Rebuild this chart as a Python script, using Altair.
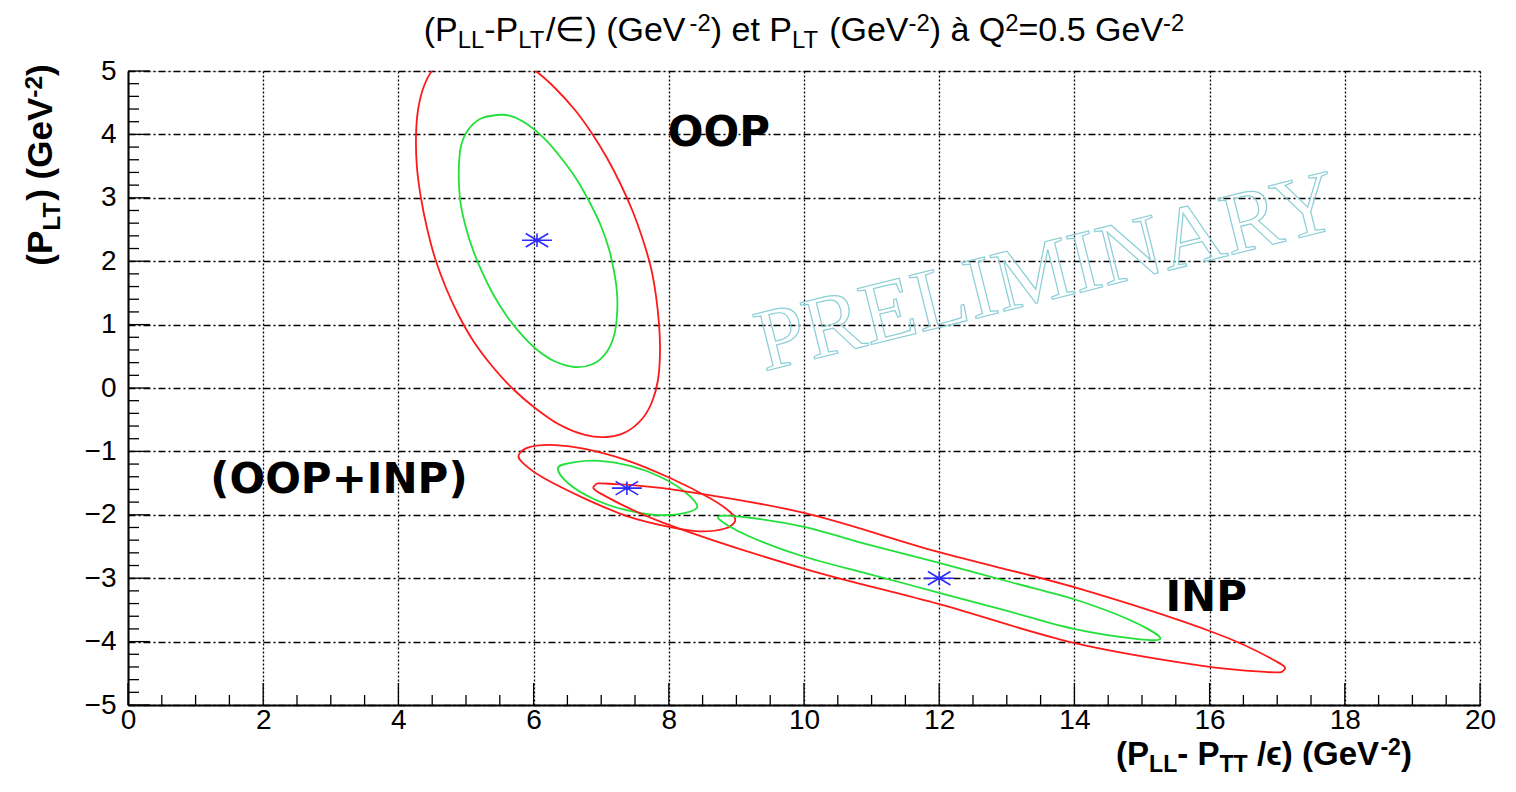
import altair as alt
import pandas as pd

# ---------------- data ----------------
# contours (x, y) of the confidence ellipses
oop_red_x = [5.044, 5.429, 5.769, 6.050, 6.316, 6.612, 6.849, 7.086, 7.293, 7.470, 7.618,
             7.737, 7.811, 7.855, 7.870, 7.840, 7.751, 7.604, 7.367, 7.086, 6.760, 6.391,
             6.021, 5.680, 5.385, 5.118, 4.896, 4.704, 4.541, 4.423, 4.334, 4.275, 4.260,
             4.290, 4.379, 4.527, 4.763]
oop_red_y = [5.300, 5.284, 5.174, 4.984, 4.732, 4.385, 4.038, 3.628, 3.202, 2.776, 2.334,
             1.893, 1.451, 1.009, 0.568, 0.126, -0.221, -0.489, -0.694, -0.773, -0.741,
             -0.584, -0.315, 0.000, 0.347, 0.726, 1.136, 1.577, 2.050, 2.524, 2.997, 3.470,
             3.943, 4.385, 4.763, 5.047, 5.237]
oop_green_x = [5.459, 5.207, 5.030, 4.926, 4.896, 4.896, 4.926, 5.000, 5.104, 5.237, 5.399,
               5.592, 5.799, 6.036, 6.302, 6.612, 6.879, 7.071, 7.189, 7.234, 7.234, 7.189,
               7.115, 6.997, 6.834, 6.642, 6.420, 6.169, 5.902, 5.666]
oop_green_y = [4.306, 4.243, 4.069, 3.817, 3.517, 3.202, 2.871, 2.524, 2.177, 1.830, 1.483,
               1.151, 0.868, 0.615, 0.426, 0.331, 0.379, 0.552, 0.820, 1.151, 1.498, 1.845,
               2.192, 2.555, 2.918, 3.281, 3.612, 3.927, 4.164, 4.290]
comb_red_x = [5.78, 5.95, 6.32, 6.76, 7.38, 8.02, 8.61, 8.91, 8.98, 8.82, 8.45, 8.00,
              7.38, 6.75, 6.15, 5.86]
comb_red_y = [-1.06, -0.93, -0.90, -0.96, -1.14, -1.42, -1.74, -1.96, -2.10, -2.22, -2.26,
              -2.19, -2.02, -1.74, -1.42, -1.20]
comb_green_x = [6.36, 6.61, 6.98, 7.43, 7.87, 8.24, 8.42, 8.15, 7.78, 7.34, 6.89, 6.52]
comb_green_y = [-1.26, -1.17, -1.15, -1.23, -1.40, -1.64, -1.88, -1.99, -2.00, -1.92,
                -1.75, -1.51]
inp_red_x = [6.91, 7.13, 8.12, 10.00, 12.00, 14.02, 16.07, 17.00, 17.09, 16.86, 15.87,
             13.99, 12.00, 9.97, 7.93, 7.00]
inp_red_y = [-1.53, -1.51, -1.61, -1.97, -2.59, -3.15, -3.86, -4.32, -4.46, -4.48, -4.38,
             -4.02, -3.41, -2.84, -2.13, -1.67]
inp_green_x = [8.73, 9.05, 10.00, 10.98, 12.00, 13.05, 14.02, 14.82, 15.27, 14.94, 13.99,
               13.02, 12.00, 10.95, 9.97, 9.17]
inp_green_y = [-2.05, -2.03, -2.19, -2.48, -2.76, -3.06, -3.34, -3.66, -3.94, -3.96, -3.80,
               -3.52, -3.23, -2.93, -2.65, -2.33]

# best-fit points
star_x = [6.05, 7.38, 12.0]
star_y = [2.33, -1.58, -3.0]

# region labels
label_text = ["OOP", "(OOP+INP)", "INP"]
label_x = [8.74, 3.12, 15.95]
label_y = [4.02, -1.45, -3.31]

watermark_text = ["PRELIMINARY"]
watermark_x = [13.6]
watermark_y = [1.8]

# axis ticks
x_major = [0, 2, 4, 6, 8, 10, 12, 14, 16, 18, 20]
x_minor = [v / 2 for v in range(0, 41) if v % 4 != 0]
y_major = [-5, -4, -3, -2, -1, 0, 1, 2, 3, 4, 5]
y_minor = [v / 5 for v in range(-25, 26) if v % 5 != 0]

# ---------------- chart ----------------
W, H = 1352, 634
RED, GREEN, BLUE = "#ff1a1a", "#22e03a", "#2b2bff"

frames = []
for name, col, xs, ys in [
    ("oop_red", RED, oop_red_x, oop_red_y),
    ("oop_green", GREEN, oop_green_x, oop_green_y),
    ("comb_red", RED, comb_red_x, comb_red_y),
    ("comb_green", GREEN, comb_green_x, comb_green_y),
    ("inp_red", RED, inp_red_x, inp_red_y),
    ("inp_green", GREEN, inp_green_x, inp_green_y),
]:
    frames.append(pd.DataFrame({"x": xs, "y": ys, "grp": name, "col": col,
                                "i": list(range(len(xs)))}))
ell = pd.concat(frames, ignore_index=True)

xscale = alt.Scale(domain=[0, 20], nice=False, zero=False)
yscale = alt.Scale(domain=[-5, 5], nice=False, zero=False)

xaxis = alt.Axis(values=x_major, format="d", grid=True, gridColor="black", gridDash=[2, 2],
                 gridWidth=1.3, ticks=False, domain=True, domainColor="black",
                 domainWidth=2, labelFont="Liberation Sans", labelFontSize=28,
                 labelColor="black", labelPadding=1, labelFlush=False,
                 labelOverlap=False, labelBound=False, title=None)
yaxis = alt.Axis(values=y_major, format="d", grid=True, gridColor="black",
                 gridDash=[7, 3, 2, 3], gridWidth=1.3, ticks=False, domain=True,
                 domainColor="black", domainWidth=2, labelFont="Liberation Sans",
                 labelFontSize=28, labelColor="black", labelPadding=12, labelFlush=False,
                 labelOverlap=False, labelBound=False, title=None)

ellipses = alt.Chart(ell).mark_line(
    interpolate="cardinal-closed", strokeWidth=1.8, clip=True
).encode(
    x=alt.X("x:Q", scale=xscale, axis=xaxis),
    y=alt.Y("y:Q", scale=yscale, axis=yaxis),
    color=alt.Color("col:N", scale=None),
    detail="grp:N",
    order="i:Q",
)

stars = alt.Chart(pd.DataFrame({"x": star_x, "y": star_y})).mark_point(
    shape="M-1,0L1,0M-0.75,-0.45L0.75,0.45M-0.75,0.45L0.75,-0.45M0,-0.45L0,0.45",
    size=900, filled=False, color=BLUE, strokeWidth=1.6, opacity=1,
).encode(x=alt.X("x:Q", title=None), y=alt.Y("y:Q", title=None))

labels = alt.Chart(pd.DataFrame({"t": label_text, "x": label_x, "y": label_y})).mark_text(
    font="DejaVu Sans", fontWeight="bold", fontSize=42, color="black",
    align="center", baseline="middle",
).encode(x=alt.X("x:Q", title=None), y=alt.Y("y:Q", title=None), text="t:N")

watermark = alt.Chart(pd.DataFrame({"t": watermark_text, "x": watermark_x,
                                    "y": watermark_y})).mark_text(
    font="Liberation Serif", fontSize=88, angle=346, fillOpacity=0,
    stroke="#8ccfd6", strokeWidth=1.2, align="center", baseline="middle",
).encode(x=alt.X("x:Q", title=None), y=alt.Y("y:Q", title=None), text="t:N")


# inward ticks (ROOT style)
def xticks(vals, length):
    return alt.Chart(pd.DataFrame({"v": vals})).mark_rule(color="black", strokeWidth=1.3).encode(
        x=alt.X("v:Q", title=None), y=alt.value(H), y2=alt.value(H - length))


def yticks(vals, length):
    return alt.Chart(pd.DataFrame({"v": vals})).mark_rule(color="black", strokeWidth=1.3).encode(
        y=alt.Y("v:Q", title=None), x=alt.value(0), x2=alt.value(length))


tick_layers = [xticks(x_major, 22), xticks(x_minor, 10), yticks(y_major, 22), yticks(y_minor, 11)]

# ---------------- texts with sub/superscripts ----------------
W_REG = {' ': 278, '(': 333, ')': 333, '-': 333, '/': 278, '.': 278, '=': 584, 'P': 667,
         'L': 556, 'T': 611, 'G': 778, 'e': 556, 'V': 667, 't': 278, 'à': 556, 'Q': 778,
         '∈': 1000, '2': 556, '0': 556, '5': 556}
W_BOLD = {' ': 278, '(': 333, ')': 333, '-': 333, '/': 278, 'P': 667, 'L': 611, 'T': 611,
          'G': 778, 'e': 556, 'V': 667, '2': 556, 'ϵ': 520}

dummy = pd.DataFrame({"a": [0]})


def rich_text(segs, size, bold, cx, cy, rotate=False):
    widths = W_BOLD if bold else W_REG
    items, total = [], 0.0
    for txt, kind in segs:
        fs = size if kind == "n" else size * 0.7
        lead = len(txt) - len(txt.lstrip(" "))
        lead_w = lead * widths[' '] / 1000.0 * fs
        w = sum(widths.get(c, 600) for c in txt) / 1000.0 * fs
        items.append((txt.strip(" "), kind, fs, total + lead_w))
        total += w
    layers = []
    for txt, kind, fs, off in items:
        shift = 0.0
        if kind == "sub":
            shift = 0.22 * size
        elif kind == "sup":
            shift = -0.30 * size
        if rotate:
            px, py, ang = cx + shift, cy + total / 2 - off, 270
        else:
            px, py, ang = cx - total / 2 + off, cy + shift, 0
        layers.append(alt.Chart(dummy).mark_text(
            text=txt, font="Liberation Sans", fontSize=fs,
            fontWeight="bold" if bold else "normal", color="black",
            align="left", baseline="alphabetic", angle=ang,
        ).encode(x=alt.value(px), y=alt.value(py)))
    return layers


title_segs = [("(P", "n"), ("LL", "sub"), ("-P", "n"), ("LT", "sub"), ("/∈) (GeV", "n"),
              ("-2", "sup"), (") et P", "n"), ("LT", "sub"), (" (GeV", "n"), ("-2", "sup"),
              (") à Q", "n"), ("2", "sup"), ("=0.5 GeV", "n"), ("-2", "sup")]
xtitle_segs = [("(P", "n"), ("LL", "sub"), ("- P", "n"), ("TT", "sub"), (" /ϵ) (GeV", "n"),
               ("-2", "sup"), (")", "n")]
ytitle_segs = [("(P", "n"), ("LT", "sub"), (") (GeV", "n"), ("-2", "sup"), (")", "n")]

text_layers = (rich_text(title_segs, 34, False, 676, -30)
               + rich_text(xtitle_segs, 33, True, 1136, 694)
               + rich_text(ytitle_segs, 35, True, -76, 94, rotate=True))

chart = alt.layer(
    ellipses, watermark, *tick_layers, stars, labels, *text_layers
).properties(
    width=W, height=H,
    autosize=alt.AutoSizeParams(type="none"),
    padding={"left": 120, "top": 63, "right": 20, "bottom": 73},
).configure_view(stroke="black", strokeWidth=1.5).configure(background="white")

chart.save("out.html", embed_options={"renderer": "svg", "actions": False})
